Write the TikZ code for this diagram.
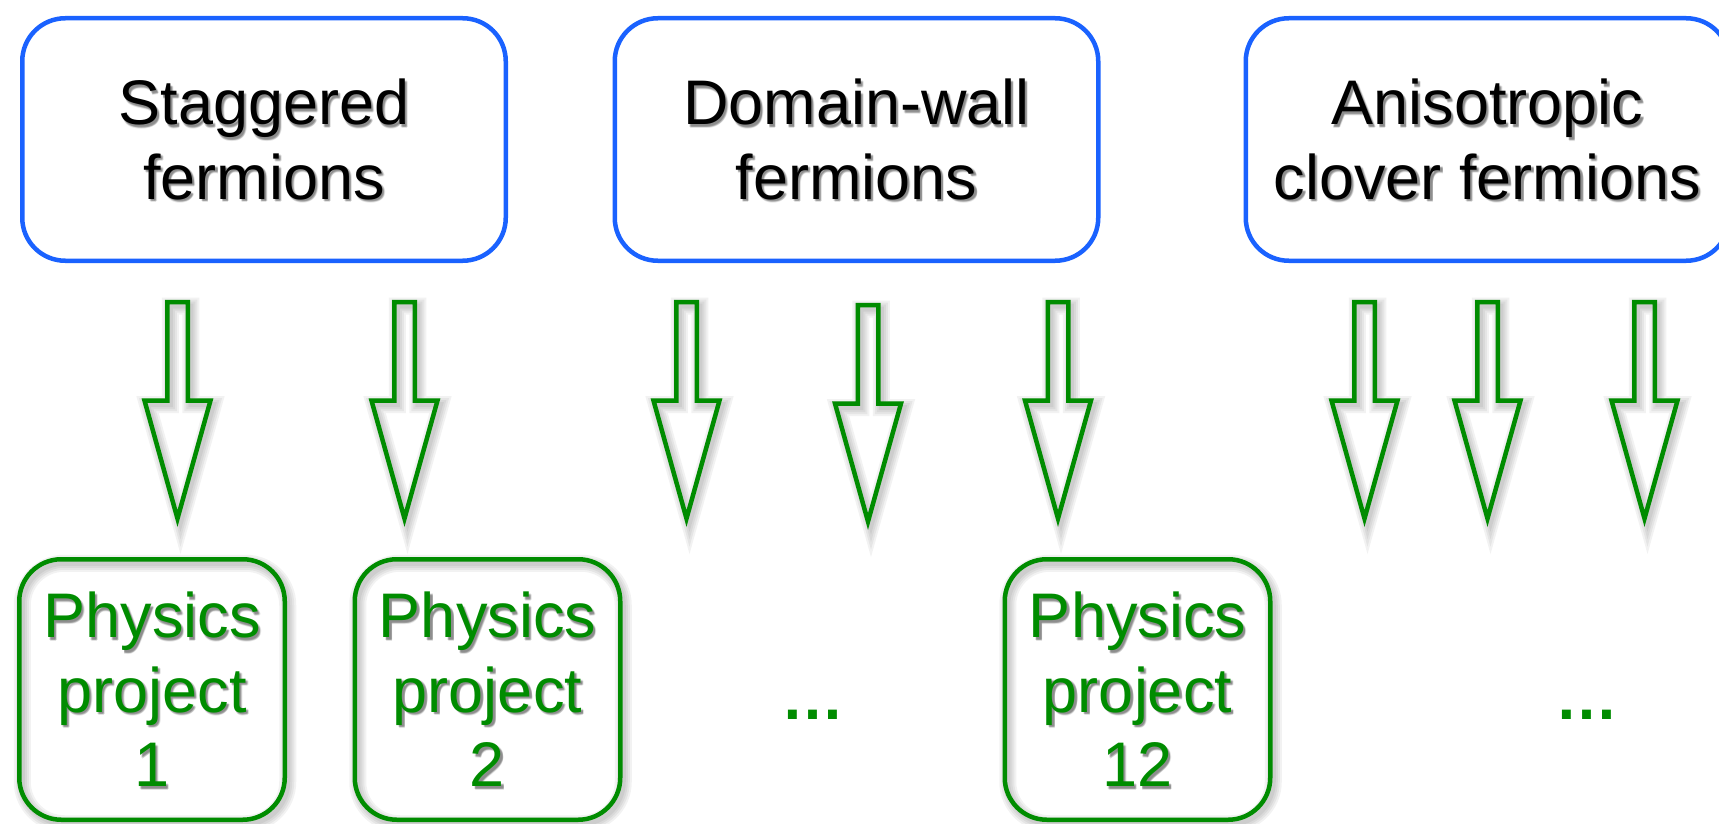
\documentclass[tikz,border=0pt]{standalone}
\usepackage{fontspec}
\setmainfont{Liberation Sans}
\definecolor{boxblue}{RGB}{26,98,255}
\definecolor{projgreen}{RGB}{0,140,0}

\tikzset{
  basefont/.style={font=\fontsize{63}{74.5}\selectfont, align=center, inner sep=0pt},
  % soft drop shadow made of stacked translucent strokes
  softshadow/.style={preaction={draw=black, draw opacity=0.05, line width=#1,
      transform canvas={shift={(3pt,-4pt)}}}},
  shadowed/.style={softshadow=17pt, softshadow=13pt, softshadow=9pt, softshadow=5pt},
  fambox/.style={basefont, draw=boxblue, line width=4.5pt, rounded corners=43pt,
      minimum width=483.5pt, minimum height=242.5pt},
  projbox/.style={basefont, text=projgreen, draw=projgreen, line width=4.5pt,
      rounded corners=42pt, minimum width=265.5pt, minimum height=260.5pt, shadowed},
  ghost/.style={basefont, text=black, text opacity=0.11},
  dots/.style={font=\bfseries\fontsize{63}{74.5}\selectfont, inner sep=0pt,
      text=projgreen, anchor=base},
  arrowline/.style={draw=projgreen, line width=4.5pt, line join=miter, shadowed},
  blockarrow/.pic={
    \draw[arrowline] (-10.25,0) -- (10.25,0) -- (10.25,98.5) -- (33,98.5)
      -- (0,216.5) -- (-33,98.5) -- (-10.25,98.5) -- cycle;
  },
}

% blurred text shadow: a few faint copies offset down and right
\newcommand\ghosts[4]{%
  \foreach \gx/\gy [count=\gi] in {1.5/2.5, 3/2.5, 2.25/1.5, 2.25/3.5, 2.25/2.5}
    \node[ghost] (#1-g\gi) at (#2+\gx,#3+\gy) {#4};%
}

\begin{document}
\begin{tikzpicture}[x=1pt, y=-1pt]
  \useasboundingbox (0,0) rectangle (1719,824);
  \fill[white] (0,0) rectangle (1719,824);
  \clip (0,0) rectangle (1719,824);

  % lattice formulations
  \ghosts{stag}{264}{139.5}{Staggered\\fermions}
  \node[fambox] (stag) at (264,139.5) {Staggered\\fermions};
  \ghosts{dw}{856.5}{139.5}{Domain-wall\\fermions}
  \node[fambox] (dw) at (856.5,139.5) {Domain-wall\\fermions};
  \ghosts{clov}{1487.5}{139.5}{Anisotropic\\clover fermions}
  \node[fambox] (clov) at (1487.5,139.5) {Anisotropic\\clover fermions};

  % block arrows
  \pic (a1) at (177.5,302) {blockarrow};
  \pic (a2) at (404.5,302) {blockarrow};
  \pic (a3) at (686.5,302) {blockarrow};
  \pic (a4) at (868,305) {blockarrow};
  \pic (a5) at (1058,302) {blockarrow};
  \pic (a6) at (1364.5,302) {blockarrow};
  \pic (a7) at (1487.5,302) {blockarrow};
  \pic (a8) at (1644.5,302) {blockarrow};

  % physics projects
  \ghosts{p1}{152}{689.5}{Physics\\project\\1}
  \node[projbox] (p1) at (152,689.5) {Physics\\project\\1};
  \ghosts{p2}{487.5}{689.5}{Physics\\project\\2}
  \node[projbox] (p2) at (487.5,689.5) {Physics\\project\\2};
  \ghosts{p12}{1137.5}{689.5}{Physics\\project\\12}
  \node[projbox] (p12) at (1137.5,689.5) {Physics\\project\\12};

  \node[dots] (more1) at (812.5,719) {…};
  \node[dots] (more2) at (1587,719) {…};
\end{tikzpicture}
\end{document}
